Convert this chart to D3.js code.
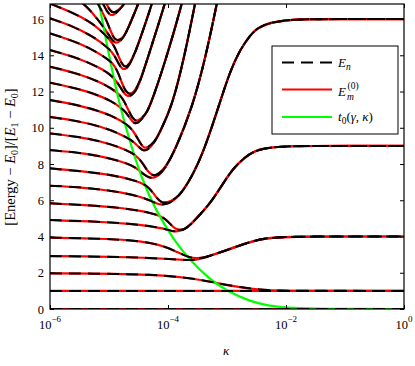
<!DOCTYPE html>
<html>
<head>
<meta charset="utf-8">
<script src="https://cdn.jsdelivr.net/npm/d3@7/dist/d3.min.js"></script>
<style>
  body { margin: 0; background: #fff; }
  svg text { font-family: "Liberation Serif", "DejaVu Serif", serif; fill: #000; }
</style>
</head>
<body>
<div id="chart"></div>
<script>
// every point is [log10(kappa), (Energy - E0)/(E1 - E0)]

// rising branches shared by each merging pair of levels
const arm2 = [[-3.37,2.85],[-3.20,3.03],[-3.03,3.22],[-2.86,3.42],[-2.64,3.66],[-2.44,3.85],[-2.24,3.93],[-2.02,3.97],[-1.76,4.0],[0,4.0]];
const arm3 = [[-3.71,4.42],[-3.62,4.65],[-3.54,4.92],[-3.39,5.45],[-3.25,6.0],[-3.08,6.85],[-2.90,7.75],[-2.69,8.40],[-2.53,8.72],[-2.36,8.87],[-2.10,8.96],[-1.76,9.0],[0,9.0]];
const arm4 = [[-3.96,5.88],[-3.86,6.1],[-3.75,6.5],[-3.58,7.4],[-3.41,8.6],[-3.24,10.2],[-3.12,11.4],[-2.95,13.1],[-2.78,14.3],[-2.61,15.1],[-2.49,15.5],[-2.27,15.82],[-1.93,15.96],[-1.59,16.0],[0,16.0]];
const arm5 = [[-4.15,7.40],[-4.05,7.75],[-3.88,8.75],[-3.58,11.2],[-3.37,13.8],[-3.17,16.85],[-3.03,19.2],[-2.95,20.5]];
const arm6 = [[-4.30,8.92],[-4.22,9.25],[-4.14,9.75],[-3.93,11.2],[-3.73,13.8],[-3.54,16.85],[-3.42,18.9],[-3.34,20.5]];
const arm7 = [[-4.46,10.42],[-4.39,10.7],[-4.31,11.12],[-4.05,13.6],[-3.76,16.85],[-3.63,18.7],[-3.53,20.3]];
const arm8 = [[-4.56,11.98],[-4.49,12.35],[-4.31,14.2],[-4.05,16.85],[-3.93,18.3],[-3.83,19.8]];
const arm9 = [[-4.66,13.42],[-4.56,14.1],[-4.42,15.4],[-4.27,16.85],[-4.17,18.0],[-4.07,19.5]];
const arm10 = [[-4.83,14.72],[-4.76,14.95],[-4.68,15.45],[-4.56,16.4],[-4.47,17.1],[-4.36,18.5]];
const arm11 = [[-4.92,16.22],[-4.85,16.42],[-4.78,16.68],[-4.73,16.9],[-4.66,17.4],[-4.55,18.5]];

const E0 = [[-6,0],[0,0]];
const E1 = [[-6,1],[0,1]];
const E2 = [[-6,1.97],[-4.81,1.94],[-4.31,1.89],[-3.88,1.80],[-3.46,1.62],[-3.12,1.40],[-2.78,1.20],[-2.44,1.06],[-2.10,1.01],[-1.76,1.0],[0,1.0]];
const E3 = [[-6,2.92],[-5.15,2.89],[-4.64,2.86],[-4.31,2.81],[-3.97,2.76],[-3.71,2.70],[-3.58,2.70],[-3.46,2.76], ...arm2];
const E4 = [[-6,3.94],[-5.15,3.88],[-4.64,3.80],[-4.31,3.66],[-4.05,3.45],[-3.85,3.15],[-3.66,2.86],[-3.51,2.78], ...arm2];
const E5 = [[-6,4.91],[-5.15,4.82],[-4.64,4.70],[-4.31,4.58],[-4.08,4.44],[-3.97,4.33],[-3.88,4.27],[-3.80,4.30], ...arm3];
const E6 = [[-6,5.83],[-5.15,5.69],[-4.81,5.58],[-4.47,5.42],[-4.31,5.30],[-4.14,5.16],[-4.04,4.95],[-3.96,4.68],[-3.89,4.45],[-3.82,4.36],[-3.76,4.38], ...arm3];
const E7 = [[-6,6.80],[-5.49,6.72],[-5.15,6.60],[-4.81,6.45],[-4.47,6.20],[-4.31,6.0],[-4.21,5.84],[-4.12,5.75],[-4.04,5.78], ...arm4];
const E8 = [[-6,7.76],[-5.15,7.50],[-4.81,7.29],[-4.64,7.15],[-4.47,6.99],[-4.34,6.75],[-4.25,6.4],[-4.18,6.08],[-4.11,5.88],[-4.04,5.84], ...arm4.slice(1)];
const E9 = [[-6,8.77],[-5.49,8.62],[-5.15,8.44],[-4.81,8.16],[-4.61,7.93],[-4.49,7.66],[-4.40,7.40],[-4.31,7.23],[-4.23,7.24], ...arm5];
const E10 = [[-6,9.69],[-5.49,9.49],[-5.15,9.26],[-4.81,8.92],[-4.61,8.62],[-4.50,8.35],[-4.42,8.0],[-4.35,7.62],[-4.27,7.38],[-4.20,7.35], ...arm5.slice(1)];
const E11 = [[-6,10.6],[-5.49,10.35],[-5.15,10.08],[-4.81,9.67],[-4.61,9.30],[-4.52,9.02],[-4.44,8.76],[-4.37,8.74], ...arm6];
const E12 = [[-6,11.53],[-5.49,11.23],[-5.15,10.90],[-4.98,10.69],[-4.81,10.42],[-4.64,10.05],[-4.55,9.62],[-4.48,9.2],[-4.42,8.92],[-4.36,8.85], ...arm6.slice(1)];
const E13 = [[-6,12.49],[-5.49,12.14],[-5.15,11.75],[-4.98,11.50],[-4.81,11.15],[-4.71,10.85],[-4.64,10.5],[-4.58,10.25],[-4.52,10.24], ...arm7];
const E14 = [[-6,13.37],[-5.49,12.96],[-5.15,12.51],[-4.98,12.21],[-4.81,11.84],[-4.73,11.38],[-4.66,10.9],[-4.60,10.52],[-4.54,10.36],[-4.49,10.42], ...arm7.slice(1)];
const E15 = [[-6,14.29],[-5.49,13.82],[-5.15,13.29],[-4.98,12.95],[-4.88,12.6],[-4.80,12.2],[-4.74,11.88],[-4.68,11.73],[-4.62,11.78], ...arm8];
const E16 = [[-6,15.21],[-5.49,14.67],[-5.15,14.07],[-4.98,13.69],[-4.90,13.4],[-4.84,13.0],[-4.78,12.45],[-4.72,12.02],[-4.66,11.85],[-4.60,11.9], ...arm8.slice(1)];
const E17 = [[-6,16.04],[-5.66,15.67],[-5.32,15.12],[-5.15,14.75],[-4.98,14.30],[-4.90,13.95],[-4.84,13.55],[-4.78,13.25],[-4.72,13.22], ...arm9];
const E18 = [[-6,16.85],[-5.66,16.42],[-5.32,15.85],[-5.15,15.40],[-4.98,14.85],[-4.90,14.45],[-4.84,13.95],[-4.78,13.5],[-4.72,13.33],[-4.66,13.5], ...arm9.slice(1)];
const E19 = [[-6,17.9],[-5.66,17.4],[-5.49,17.0],[-5.32,16.5],[-5.20,16.0],[-5.10,15.6],[-5.02,15.2],[-4.95,14.85],[-4.89,14.67], ...arm10];
const E20 = [[-6,18.8],[-5.66,18.2],[-5.32,17.5],[-5.20,16.95],[-5.15,16.6],[-5.10,16.3],[-5.04,15.9],[-4.98,15.4],[-4.92,14.95],[-4.86,14.78], ...arm10.slice(1)];
const E21 = [[-6,19.7],[-5.66,19.1],[-5.32,18.2],[-5.20,17.4],[-5.10,16.85],[-5.04,16.45],[-4.98,16.2], ...arm11];
const E22 = [[-6,20.6],[-5.66,19.9],[-5.32,18.9],[-5.20,18.0],[-5.10,17.3],[-5.04,16.8],[-4.98,16.45],[-4.92,16.32],[-4.85,16.48], ...arm11.slice(2)];

const levels = [E0, E1, E2, E3, E4, E5, E6, E7, E8, E9, E10, E11, E12, E13, E14, E15, E16, E17, E18, E19, E20, E21, E22];

// t0(gamma, kappa)
const t0 = [[-5.25,18.4],[-5.17,16.83],[-5.0,14.0],[-4.84,11.5],[-4.67,9.5],[-4.45,7.2],[-4.2,5.4],[-3.91,3.85],[-3.63,2.7],[-3.3,1.65],[-3.0,1.0],[-2.61,0.42],[-2.3,0.18],[-2.0,0.07],[-1.5,0.015],[-1,0.003],[0,0]];

const xTicks = [1e-6, 1e-4, 1e-2, 1];
const xTickExp = ['\u22126', '\u22124', '\u22122', '0'];
const yTicks = [0, 2, 4, 6, 8, 10, 12, 14, 16];

const W = 415, H = 366;
const mLeft = 50, mRight = 404, mTop = 4, mBottom = 309;

const x = d3.scaleLog().domain([1e-6, 1]).range([mLeft, mRight]);
const y = d3.scaleLinear().domain([0, 16.83]).range([mBottom, mTop]);

const svg = d3.select('#chart').append('svg')
  .attr('width', W)
  .attr('height', H);

svg.append('defs').append('clipPath').attr('id', 'plot')
  .append('rect')
  .attr('x', mLeft).attr('y', mTop)
  .attr('width', mRight - mLeft).attr('height', mBottom - mTop);

const line = d3.line()
  .x(d => x(Math.pow(10, d[0])))
  .y(d => y(d[1]))
  .curve(d3.curveBasis);

const plot = svg.append('g').attr('clip-path', 'url(#plot)');

plot.selectAll('path.red')
  .data(levels)
  .enter()
  .append('path')
  .attr('class', 'red')
  .attr('d', line)
  .attr('fill', 'none')
  .attr('stroke', '#ff0000')
  .attr('stroke-width', 2.2);

plot.append('path')
  .datum(t0)
  .attr('d', line)
  .attr('fill', 'none')
  .attr('stroke', '#00ff00')
  .attr('stroke-width', 2.2);

plot.selectAll('path.blk')
  .data(levels)
  .enter()
  .append('path')
  .attr('class', 'blk')
  .attr('d', line)
  .attr('fill', 'none')
  .attr('stroke', '#000')
  .attr('stroke-width', 2)
  .attr('stroke-dasharray', '12,7');

// axes, ticks pointing inwards on all four sides
const styleAxis = g => {
  g.select('.domain').remove();
  g.selectAll('.tick line').attr('stroke', '#000').attr('stroke-width', 1);
  g.attr('font-size', 12.5).attr('font-family', null);
};

svg.append('g')
  .attr('transform', `translate(${mLeft},0)`)
  .call(d3.axisLeft(y).tickValues(yTicks).tickSizeInner(-4).tickSizeOuter(0).tickPadding(6))
  .call(styleAxis);

svg.append('g')
  .attr('transform', `translate(${mRight},0)`)
  .call(d3.axisRight(y).tickValues(yTicks).tickSizeInner(-4).tickSizeOuter(0).tickFormat(''))
  .call(styleAxis);

svg.append('g')
  .attr('transform', `translate(0,${mBottom})`)
  .call(d3.axisBottom(x).tickValues(xTicks).tickSizeInner(-4).tickSizeOuter(0).tickFormat(''))
  .call(styleAxis);

svg.append('g')
  .attr('transform', `translate(0,${mTop})`)
  .call(d3.axisTop(x).tickValues(xTicks).tickSizeInner(-4).tickSizeOuter(0).tickFormat(''))
  .call(styleAxis);

const xLab = svg.append('g').selectAll('text')
  .data(xTicks)
  .enter()
  .append('text')
  .attr('x', d => x(d))
  .attr('y', 328.5)
  .attr('text-anchor', 'middle')
  .attr('font-size', 12.5);
xLab.append('tspan').text('10');
xLab.append('tspan')
  .attr('dy', -6.5)
  .attr('font-size', 9)
  .text((d, i) => xTickExp[i]);

svg.append('rect')
  .attr('x', mLeft).attr('y', mTop)
  .attr('width', mRight - mLeft).attr('height', mBottom - mTop)
  .attr('fill', 'none')
  .attr('stroke', '#000')
  .attr('stroke-width', 1.2);

// axis titles
svg.append('text')
  .attr('x', 226).attr('y', 355)
  .attr('text-anchor', 'middle')
  .attr('font-size', 13)
  .attr('font-style', 'italic')
  .text('\u03ba');

const yTitle = svg.append('text')
  .attr('transform', 'translate(15,157) rotate(-90)')
  .attr('text-anchor', 'middle')
  .attr('font-size', 14.5);
yTitle.append('tspan').text('[Energy \u2212 ');
yTitle.append('tspan').attr('font-style', 'italic').text('E');
yTitle.append('tspan').attr('font-size', 10).attr('dy', 3).text('0');
yTitle.append('tspan').attr('dy', -3).text(']/[');
yTitle.append('tspan').attr('font-style', 'italic').text('E');
yTitle.append('tspan').attr('font-size', 10).attr('dy', 3).text('1');
yTitle.append('tspan').attr('dy', -3).text(' \u2212 ');
yTitle.append('tspan').attr('font-style', 'italic').text('E');
yTitle.append('tspan').attr('font-size', 10).attr('dy', 3).text('0');
yTitle.append('tspan').attr('dy', -3).text(']');

// legend
const legend = svg.append('g');
legend.append('rect')
  .attr('x', 272).attr('y', 46)
  .attr('width', 126).attr('height', 88)
  .attr('fill', '#fff')
  .attr('stroke', '#000')
  .attr('stroke-width', 1);

legend.append('line')
  .attr('x1', 282).attr('x2', 332).attr('y1', 62.5).attr('y2', 62.5)
  .attr('stroke', '#000').attr('stroke-width', 2).attr('stroke-dasharray', '12,7');
legend.append('line')
  .attr('x1', 282).attr('x2', 332).attr('y1', 89.5).attr('y2', 89.5)
  .attr('stroke', '#ff0000').attr('stroke-width', 2.2);
legend.append('line')
  .attr('x1', 282).attr('x2', 332).attr('y1', 117).attr('y2', 117)
  .attr('stroke', '#00ff00').attr('stroke-width', 2.2);

const l1 = legend.append('text').attr('x', 338).attr('y', 66.5).attr('font-size', 13);
l1.append('tspan').attr('font-style', 'italic').text('E');
l1.append('tspan').attr('font-style', 'italic').attr('font-size', 9.5).attr('dy', 3).text('n');

legend.append('text').attr('x', 338).attr('y', 96).attr('font-size', 13)
  .attr('font-style', 'italic').text('E');
legend.append('text').attr('x', 347).attr('y', 99.5).attr('font-size', 9.5)
  .attr('font-style', 'italic').text('m');
legend.append('text').attr('x', 347.5).attr('y', 88.5).attr('font-size', 9.5)
  .text('(0)');

const l3 = legend.append('text').attr('x', 338).attr('y', 121).attr('font-size', 13);
l3.append('tspan').attr('font-style', 'italic').text('t');
l3.append('tspan').attr('font-size', 9.5).attr('dy', 3).text('0');
l3.append('tspan').attr('dy', -3).text('(');
l3.append('tspan').attr('font-style', 'italic').text('\u03b3');
l3.append('tspan').text(', ');
l3.append('tspan').attr('font-style', 'italic').text('\u03ba');
l3.append('tspan').text(')');
</script>
</body>
</html>
